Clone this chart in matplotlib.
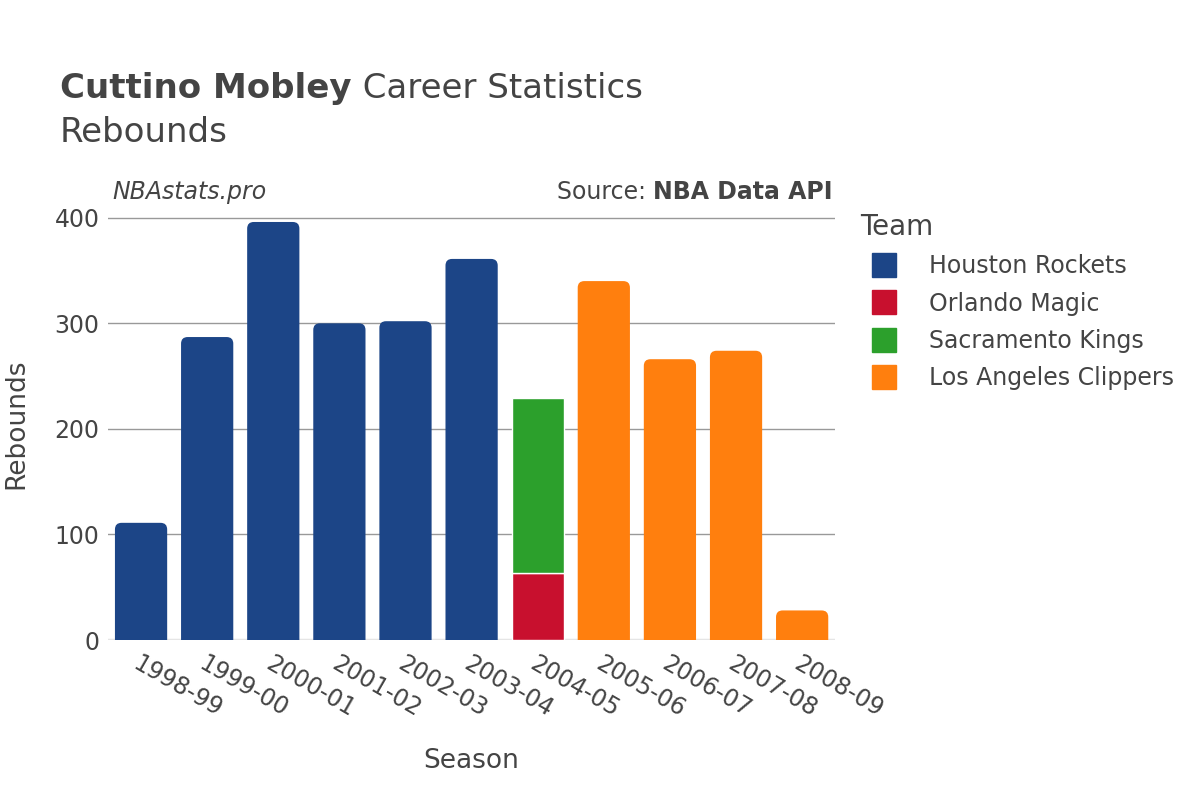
import numpy as np
import matplotlib.pyplot as plt
from matplotlib.patches import FancyBboxPatch, Rectangle
from matplotlib.lines import Line2D

# ---------------
# Data
# ---------------
seasons = ['1998-99', '1999-00', '2000-01', '2001-02', '2002-03', '2003-04',
           '2004-05', '2005-06', '2006-07', '2007-08', '2008-09']
teams = ['Houston Rockets', 'Orlando Magic', 'Sacramento Kings', 'Los Angeles Clippers']
colors = ['#1c4587', '#c8102e', '#2ca02c', '#ff7f0e']

houston = [111, 287, 396, 300, 302, 361, 0, 0, 0, 0, 0]
orlando = [0, 0, 0, 0, 0, 0, 63, 0, 0, 0, 0]
sacramento = [0, 0, 0, 0, 0, 0, 166, 0, 0, 0, 0]
clippers = [0, 0, 0, 0, 0, 0, 0, 340, 266, 274, 28]
series = [houston, orlando, sacramento, clippers]

txt = '#444444'
plt.rcParams['font.family'] = ['DejaVu Sans']

fig = plt.figure(figsize=(12, 8), dpi=100)
ax = fig.add_axes([0.09, 0.2, 0.606, 0.541])

ymax = 410
ax.set_xlim(-0.5, len(seasons) - 0.5)
ax.set_ylim(0, ymax)

width = 0.79
x = np.arange(len(seasons))
bottom = np.zeros(len(seasons))
# pixel -> data conversion for rounding
ppx_x = (0.606 * 1200) / len(seasons)
ppx_y = (0.541 * 800) / ymax
rad = 0.1  # in x data units
aspect = ppx_x / ppx_y

# which segment is top of stack
top_idx = {}
for i in range(len(seasons)):
    for s, vals in enumerate(series):
        if vals[i] > 0:
            top_idx[i] = s

for s, vals in enumerate(series):
    for i, v in enumerate(vals):
        if v <= 0:
            continue
        x0 = x[i] - width / 2
        y0 = bottom[i]
        if top_idx[i] == s and y0 == 0:
            # rounded top, bottom pushed below the axis and clipped
            p = FancyBboxPatch((x0, y0 - 30), width, v + 30,
                               boxstyle='round,pad=0,rounding_size=%f' % rad,
                               mutation_aspect=aspect,
                               facecolor=colors[s], edgecolor='none', zorder=3)
            ax.add_patch(p)
        else:
            ax.add_patch(Rectangle((x0, y0), width, v, facecolor=colors[s],
                                   edgecolor='white', linewidth=1, zorder=3))
        bottom[i] += v

# grid
for yv in [100, 200, 300, 400]:
    ax.axhline(yv, color='#999999', linewidth=1, zorder=1)
ax.axhline(0, color='#e5e5e5', linewidth=2.5, zorder=2)

for sp in ax.spines.values():
    sp.set_visible(False)
ax.set_yticks([0, 100, 200, 300, 400])
ax.set_xticks(x)
ax.set_xticklabels(seasons, rotation=-30, ha='left', rotation_mode='anchor')
ax.tick_params(axis='both', length=0, labelsize=17, colors=txt, pad=6)
ax.tick_params(axis='x', pad=8)

ax.set_xlabel('Season', fontsize=19, color=txt, labelpad=19)
ax.set_ylabel('Rebounds', fontsize=19, color=txt, labelpad=18)

# titles
fig.canvas.draw()
r = fig.canvas.get_renderer()
t0 = fig.text(0.05, 0.889, 'Cuttino Mobley', fontsize=24.5, fontweight='bold', color=txt, va='center')
bb0 = t0.get_window_extent(renderer=r)
fig.text(bb0.x1 / 1200, 0.889, ' Career Statistics', fontsize=24.5, color=txt, va='center')
fig.text(0.05, 0.834, 'Rebounds', fontsize=24.5, color=txt, va='center')

fig.text(0.094, 0.76, 'NBAstats.pro', fontsize=17, style='italic', color=txt, va='center')
t1 = fig.text(0.694, 0.76, 'NBA Data API', fontsize=17, fontweight='bold', color=txt,
              va='center', ha='right')
bb = t1.get_window_extent(renderer=r)
fig.text(bb.x0 / 1200, 0.76, 'Source: ', fontsize=17, color=txt, va='center', ha='right')

# legend
handles = [Line2D([0], [0], marker='s', linestyle='none', markersize=17,
                  markerfacecolor=c, markeredgecolor=c) for c in colors]
leg = fig.legend(handles, teams, loc='upper left', bbox_to_anchor=(0.699, 0.76),
                 frameon=False, fontsize=17, title='Team', title_fontsize=20,
                 labelspacing=0.56, handletextpad=0.9, alignment='left')
for t in leg.get_texts():
    t.set_color(txt)
leg.get_title().set_color(txt)

fig.savefig('out.png', dpi=100)
